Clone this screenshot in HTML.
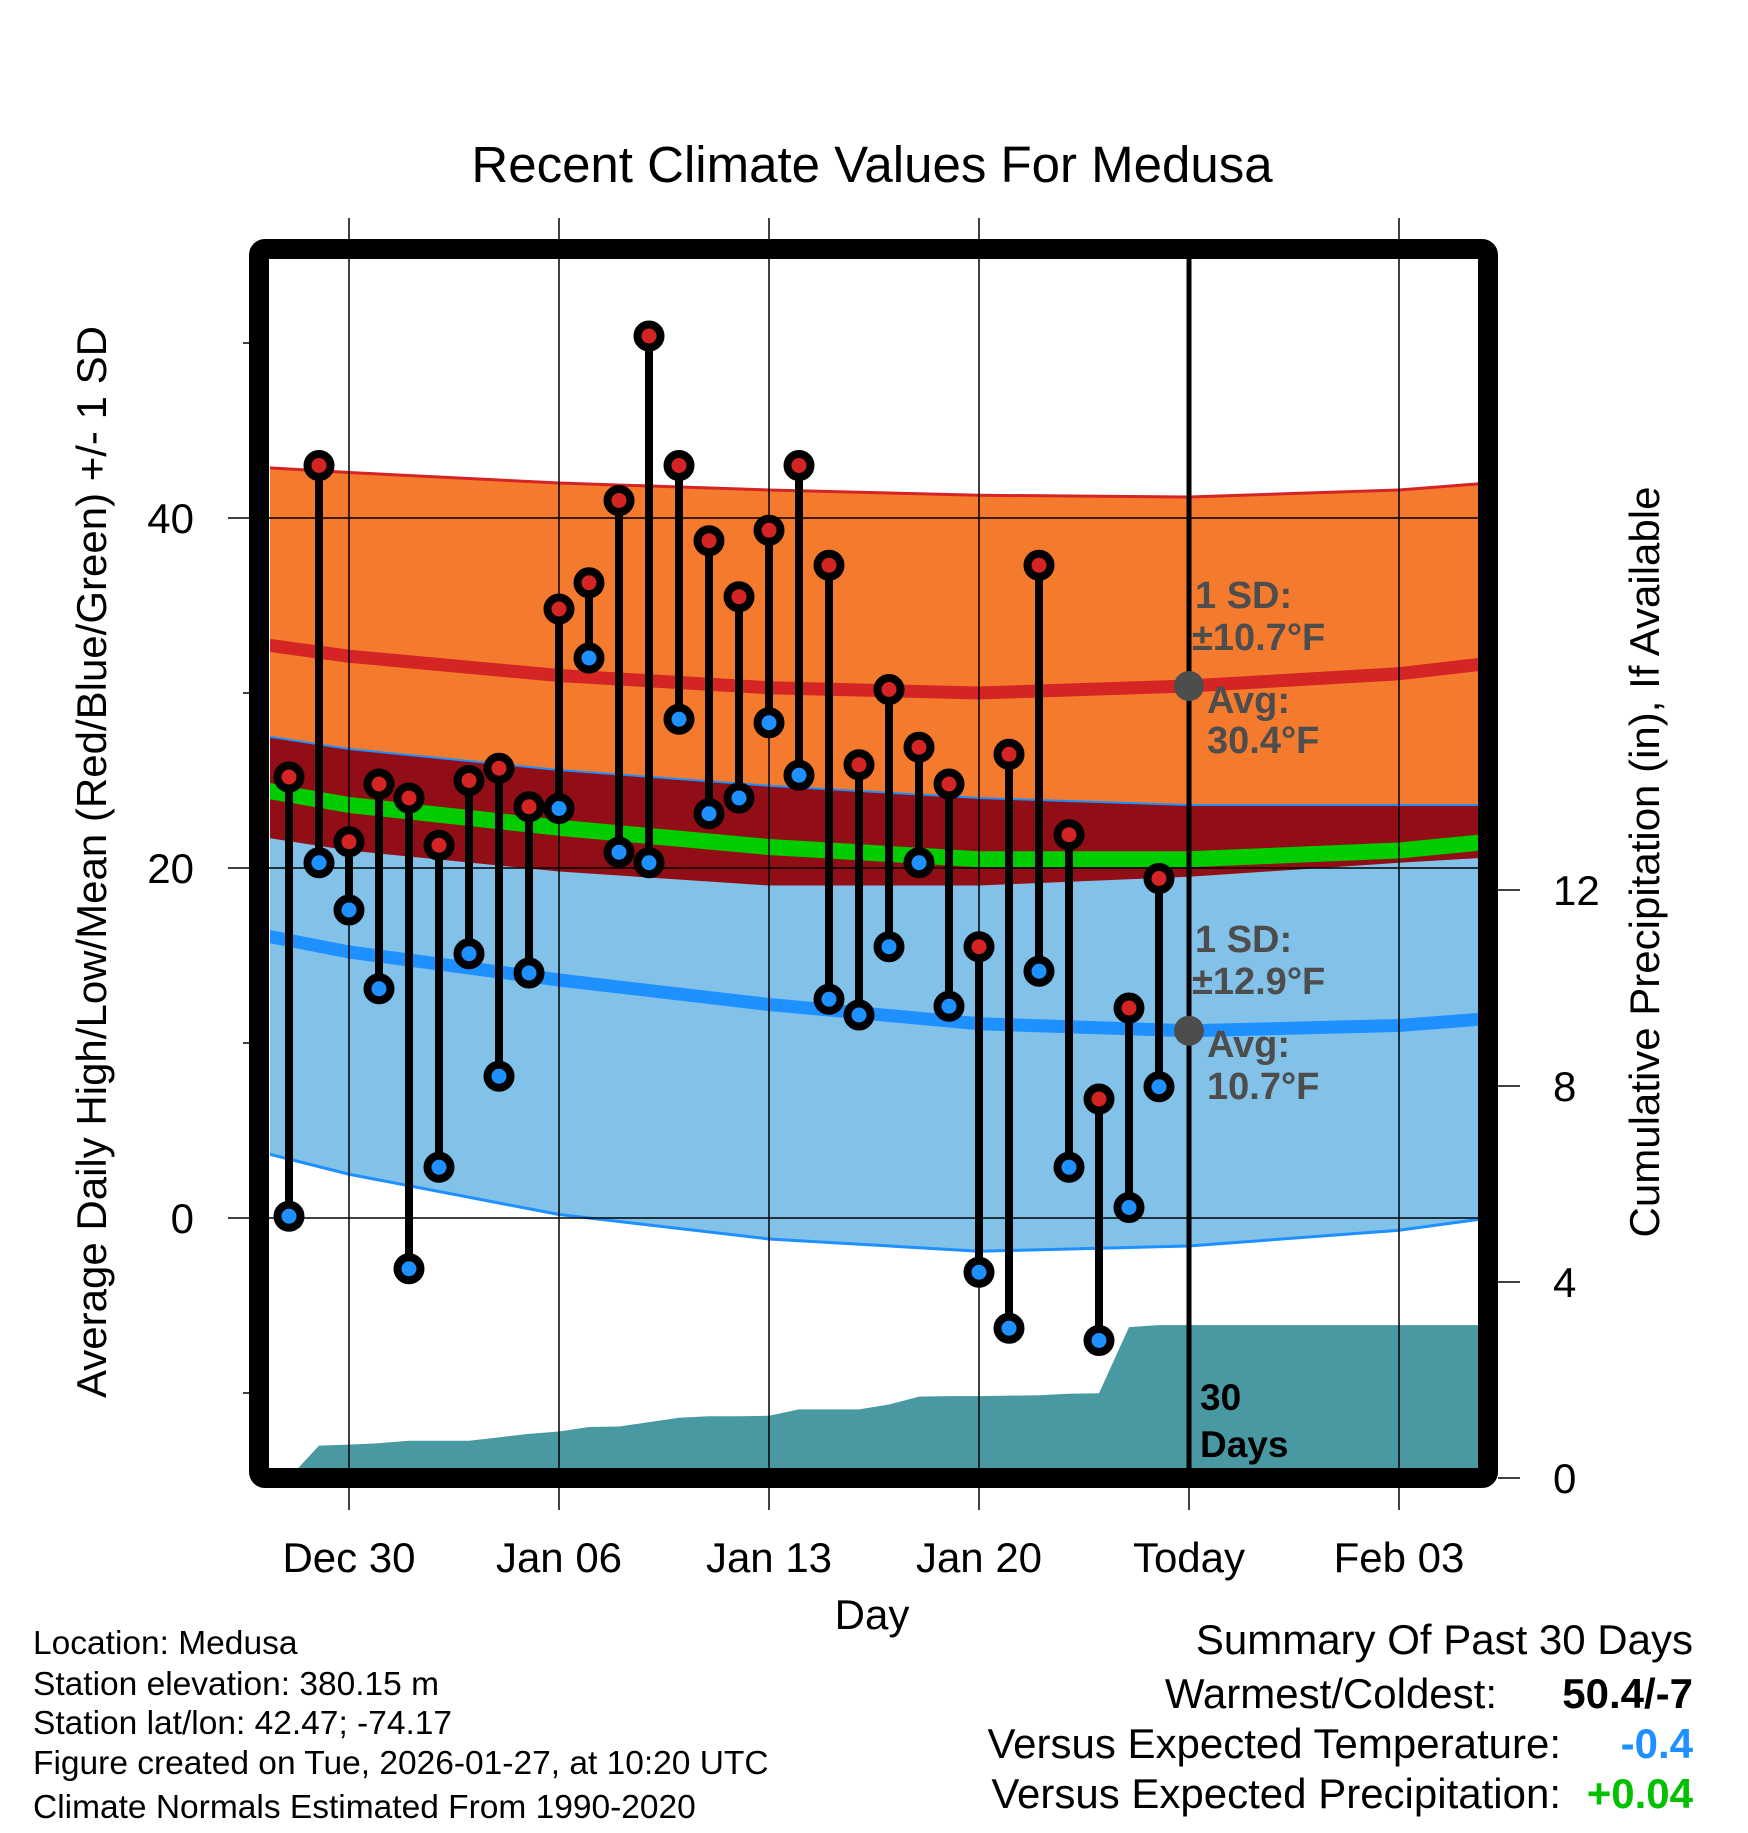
<!DOCTYPE html>
<html><head><meta charset="utf-8"><style>
body{margin:0;background:#fff}
svg text{font-family:"Liberation Sans",sans-serif}
</style></head><body>
<svg id="chart" width="1748" height="1828" viewBox="0 0 1748 1828" xmlns="http://www.w3.org/2000/svg">
<defs><clipPath id="pc"><rect x="270" y="260" width="1208" height="1208"/></clipPath></defs>
<text x="872" y="182" font-size="51" text-anchor="middle">Recent Climate Values For Medusa</text>
<g id="bands" clip-path="url(#pc)"></g>
<g id="grid"></g>
<g id="marks" clip-path="url(#pc)"></g>
<rect x="259" y="249" width="1229" height="1229" rx="6" fill="none" stroke="#000" stroke-width="20"/>
<g id="axes"></g>
<text transform="translate(106,862) rotate(-90)" font-size="42" text-anchor="middle">Average Daily High/Low/Mean (Red/Blue/Green) +/- 1 SD</text>
<text transform="translate(1659,862) rotate(-90)" font-size="42" text-anchor="middle">Cumulative Precipitation (in), If Available</text>
<text x="872" y="1629" font-size="42" text-anchor="middle">Day</text>
<g font-size="33.5">
<text x="33" y="1654">Location: Medusa</text>
<text x="33" y="1695">Station elevation: 380.15 m</text>
<text x="33" y="1734">Station lat/lon: 42.47; -74.17</text>
<text x="33" y="1774">Figure created on Tue, 2026-01-27, at 10:20 UTC</text>
<text x="33" y="1818">Climate Normals Estimated From 1990-2020</text>
</g>
<g font-size="42" text-anchor="end">
<text x="1693" y="1654">Summary Of Past 30 Days</text>
<text x="1497" y="1708">Warmest/Coldest:</text>
<text x="1693" y="1708" font-weight="bold">50.4/-7</text>
<text x="1561" y="1758">Versus Expected Temperature:</text>
<text x="1693" y="1758" font-weight="bold" fill="#1e90ff">-0.4</text>
<text x="1561" y="1808">Versus Expected Precipitation:</text>
<text x="1693" y="1808" font-weight="bold" fill="#00c000">+0.04</text>
</g>
<g id="annot" font-size="38" font-weight="bold" fill="#4d4d4d">
<text x="1195" y="608">1 SD:</text>
<text x="1192" y="650">±10.7°F</text>
<text x="1207" y="713">Avg:</text>
<text x="1207" y="753">30.4°F</text>
<text x="1195" y="952">1 SD:</text>
<text x="1192" y="994">±12.9°F</text>
<text x="1207" y="1057">Avg:</text>
<text x="1207" y="1099">10.7°F</text>
</g>
<g font-size="37" font-weight="bold">
<text x="1200" y="1410">30</text>
<text x="1200" y="1457">Days</text>
</g>
</svg>
<script>
// observed data (days relative to Dec 30)
const obsDays = [-2,-1,0,1,2,3,4,5,6,7,8,9,10,11,12,13,14,15,16,17,18,19,20,21,22,23,24,25,26,27];
const highs = [25.2,43,21.5,24.8,24,21.3,25,25.7,23.5,34.8,36.3,41,50.4,43,38.7,35.5,39.3,43,37.3,25.9,30.2,26.9,24.8,15.5,26.5,37.3,21.9,6.8,12,19.4];
const lows = [0.1,20.3,17.6,13.1,-2.9,2.9,15.1,8.1,14,23.4,32,20.9,20.3,28.5,23.1,24,28.3,25.3,12.5,11.6,15.5,20.3,12.1,-3.1,-6.3,14.1,2.9,-7,0.6,7.5];
const precip = [0,0.66,0.68,0.71,0.76,0.76,0.76,0.83,0.90,0.95,1.04,1.05,1.14,1.23,1.26,1.26,1.27,1.40,1.40,1.40,1.50,1.66,1.67,1.67,1.68,1.69,1.72,1.73,3.08,3.12];
// normals
const normDays = [-3,0,7,14,21,28,35,38];
const highUpper = [42.9,42.6,42.0,41.6,41.3,41.2,41.6,42.0];
const highMean = [32.8,32.1,31.0,30.3,30.0,30.4,31.1,31.7];
const highLower = [21.8,21.0,19.8,19.0,19.0,19.5,20.3,20.6];
const lowUpper = [27.6,26.8,25.6,24.7,24.0,23.6,23.6,23.6];
const lowMean = [16.2,15.2,13.6,12.2,11.1,10.7,11.0,11.4];
const lowLower = [3.8,2.5,0.2,-1.2,-1.9,-1.6,-0.7,0];
const meanLine = [24.5,23.6,22.3,21.2,20.5,20.5,21.0,21.5];
const xTickDays = [0,7,14,21,28,35];
const xTickLabels = ["Dec 30","Jan 06","Jan 13","Jan 20","Today","Feb 03"];
const yTicks = [0,20,40];
const yMinor = [-10,10,30,50];
const y2Ticks = [0,4,8,12];
const todayDay = 28;

const NS="http://www.w3.org/2000/svg";
const x = d => 349 + 30*d;
const y = t => 1218 - 17.5*t;
const yp = p => 1478 - 49*p;
function mk(tag, attrs, parent){const e=document.createElementNS(NS,tag);for(const k in attrs)e.setAttribute(k,attrs[k]);parent.appendChild(e);return e;}
const bands=document.getElementById('bands'), grid=document.getElementById('grid'), marks=document.getElementById('marks'), axes=document.getElementById('axes');
const pts = arr => normDays.map((d,i)=>x(d)+','+y(arr[i]));
function band(up,lo,fill,name){
  const p=mk('polygon',{points:pts(up).concat(pts(lo).reverse()).join(' '),fill:fill},bands);
  
  
}
function line(arr,color,w,name,parent){
  const p=mk('polyline',{points:pts(arr).join(' '),fill:'none',stroke:color,'stroke-width':w},parent||bands);
  
  
}
band(highUpper,highLower,'#f47b2d','high-sd-band');
band(lowUpper,lowLower,'#82c1e8','low-sd-band');
band(lowUpper,highLower,'#920e16','overlap-band');
line(highUpper,'#d42424',3,'high-upper-edge');
line(lowUpper,'#1e90ff',2,'low-upper-edge');
line(lowLower,'#1e90ff',3,'low-lower-edge');
line(meanLine,'#00cc00',16,'daily-mean-line');
line(highMean,'#d42424',13,'normal-high-line');
line(lowMean,'#1e90ff',13,'normal-low-line');
// precip
const pp=[x(obsDays[0])+','+yp(0)];
obsDays.forEach((d,i)=>pp.push(x(d)+','+yp(precip[i])));
pp.push(1480+','+yp(precip[precip.length-1]));
pp.push(1480+','+yp(0));
const pr=mk('polygon',{points:pp.join(' '),fill:'#4899a1'},bands);


// grid
xTickDays.forEach((d,i)=>{
  const top = d===todayDay ? 1478 : 218;
  const g=mk('line',{x1:x(d),x2:x(d),y1:top,y2:1510,stroke:'#000','stroke-width':1.5},grid);
  
  
});
yTicks.forEach(t=>{
  const g=mk('line',{x1:228,x2:1478,y1:y(t),y2:y(t),stroke:'#000','stroke-width':1.5},grid);
  
  
  const l=mk('text',{x:194,y:y(t)+15,'font-size':42,'text-anchor':'end'},axes);
  l.textContent=t;
  
  
});
yMinor.forEach(t=>{
  const g=mk('line',{x1:243,x2:249,y1:y(t),y2:y(t),stroke:'#000','stroke-width':1.5},axes);
  
  
});
y2Ticks.forEach(p=>{
  const g=mk('line',{x1:1498,x2:1520,y1:yp(p),y2:yp(p),stroke:'#000','stroke-width':1.5},axes);
  
  
  const l=mk('text',{x:1553,y:yp(p)+15,'font-size':42},axes);
  l.textContent=p;
  
  
});
xTickDays.forEach((d,i)=>{
  const l=mk('text',{x:x(d),y:1572,'font-size':42,'text-anchor':'middle'},axes);
  l.textContent=xTickLabels[i];
  
  
});
// today line
const tl=mk('line',{x1:x(todayDay),x2:x(todayDay),y1:255,y2:1468,stroke:'#000','stroke-width':5},grid);


// stems and markers
obsDays.forEach((d,i)=>{
  const s=mk('line',{x1:x(d),x2:x(d),y1:y(highs[i]),y2:y(lows[i]),stroke:'#000','stroke-width':8},marks);
  
  
});
obsDays.forEach((d,i)=>{
  [[highs[i],'#d42424','high-marker'],[lows[i],'#1e90ff','low-marker']].forEach(([v,c,n])=>{
    const m=mk('circle',{cx:x(d),cy:y(v),r:11.5,fill:c,stroke:'#000','stroke-width':8},marks);
    
    
  });
});
// normal dots at today
[highMean[5],lowMean[5]].forEach(v=>{
  const c=mk('circle',{cx:x(todayDay),cy:y(v),r:15,fill:'#4d4d4d'},grid);
  
  
});
</script>
</body></html>
